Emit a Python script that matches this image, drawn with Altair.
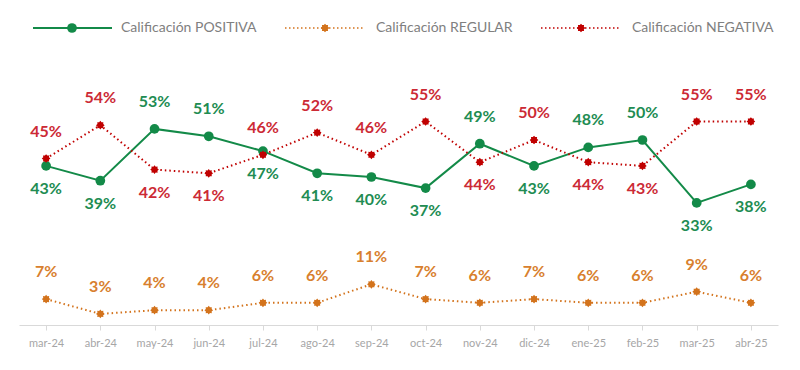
import math
import altair as alt
import pandas as pd

months = ["mar-24", "abr-24", "may-24", "jun-24", "jul-24", "ago-24", "sep-24",
          "oct-24", "nov-24", "dic-24", "ene-25", "feb-25", "mar-25", "abr-25"]
positiva = [43, 39, 53, 51, 47, 41, 40, 37, 49, 43, 48, 50, 33, 38]
regular = [7, 3, 4, 4, 6, 6, 11, 7, 6, 7, 6, 6, 9, 6]
negativa = [45, 54, 42, 41, 46, 52, 46, 55, 44, 50, 44, 43, 55, 55]
# label placement: "a" above the point, "b" below
pos_side = ["b", "b", "a", "a", "b", "b", "b", "b", "a", "b", "a", "a", "b", "b"]
neg_side = ["a", "a", "b", "b", "a", "a", "a", "a", "b", "a", "b", "b", "a", "a"]
reg_side = ["a"] * 14

series_names = ["Calificación POSITIVA", "Calificación REGULAR", "Calificación NEGATIVA"]
line_colors = ["#138a48", "#d3731c", "#c00000"]
label_colors = ["#218c52", "#d8802e", "#cc2a35"]

rows = []
for name, vals, sides in zip(series_names, [positiva, regular, negativa],
                             [pos_side, reg_side, neg_side]):
    for i, (m, v, s) in enumerate(zip(months, vals, sides)):
        rows.append({"mes": m, "serie": name, "valor": v, "lado": s,
                     "etiqueta": f"{v}%", "orden": i})
df = pd.DataFrame(rows)

# star-like marker path (style)
pts = []
for k in range(16):
    r = 1.0 if k % 2 == 0 else 0.72
    a = math.pi * k / 8
    pts.append(f"{r * math.cos(a):.3f},{r * math.sin(a):.3f}")
star = "M" + "L".join(pts) + "Z"

FONT = "Lato"
DOT = [1.5, 3]
x_enc = alt.X("mes:N", sort=months, scale=alt.Scale(paddingInner=0, paddingOuter=0),
              axis=alt.Axis(title=None, labelAngle=0, labelColor="#a6a6a6", labelFont=FONT,
                            labelFontSize=11, labelPadding=7, domainColor="#d9d9d9",
                            tickColor="#d9d9d9", tickSize=5, bandPosition=0, grid=False))
y_enc = alt.Y("valor:Q", scale=alt.Scale(domain=[0, 60]), axis=None)

layers = []
for name, lc, tc in zip(series_names, line_colors, label_colors):
    sub = alt.Chart(df).transform_filter(alt.datum.serie == name)
    if "POSITIVA" in name:
        line = sub.mark_line(color=lc, strokeWidth=2)
        pt = sub.mark_point(shape="circle", filled=True, color=lc, size=95, opacity=1)
    else:
        line = sub.mark_line(color=lc, strokeWidth=2, strokeDash=DOT)
        pt = sub.mark_point(shape=star, filled=True, color=lc, size=75, opacity=1)
    layers.append(line.encode(x=x_enc, y=y_enc, order="orden:Q"))
    layers.append(pt.encode(x=x_enc, y=y_enc))
    layers.append(sub.transform_filter(alt.datum.lado == "a").mark_text(
        font=FONT, fontSize=16, fontWeight="bold", color=tc, dy=-27, baseline="middle"
    ).encode(x=x_enc, y=y_enc, text="etiqueta:N"))
    layers.append(sub.transform_filter(alt.datum.lado == "b").mark_text(
        font=FONT, fontSize=16, fontWeight="bold", color=tc, dy=23, baseline="middle"
    ).encode(x=x_enc, y=y_enc, text="etiqueta:N"))

# manual legend (decorative positions)
leg_y = -75
leg_specs = [(14, 93, 53, 102), (266, 346, 306, 357), (522, 601, 562, 613)]
leg_df = pd.DataFrame({"serie": series_names})
for (x1, x2, xm, xt), name, lc in zip(leg_specs, series_names, line_colors):
    base = alt.Chart(leg_df).transform_filter(alt.datum.serie == name)
    if "POSITIVA" in name:
        layers.append(base.mark_rule(color=lc, strokeWidth=2).encode(
            x=alt.value(x1), x2=alt.value(x2), y=alt.value(leg_y)))
        layers.append(base.mark_point(shape="circle", filled=True, color=lc, size=95, opacity=1)
                      .encode(x=alt.value(xm), y=alt.value(leg_y)))
    else:
        layers.append(base.mark_rule(color=lc, strokeWidth=1.5, strokeDash=[1.5, 2.5]).encode(
            x=alt.value(x1), x2=alt.value(x2), y=alt.value(leg_y)))
        layers.append(base.mark_point(shape=star, filled=True, color=lc, size=75, opacity=1)
                      .encode(x=alt.value(xm), y=alt.value(leg_y)))
    layers.append(base.mark_text(font=FONT, fontSize=14, color="#808080", align="left",
                                 baseline="middle")
                  .encode(x=alt.value(xt), y=alt.value(leg_y), text="serie:N"))

chart = alt.layer(*layers).properties(
    width=759, height=222,
    background="white",
    autosize=alt.AutoSizeParams(type="none"),
    padding={"left": 11, "top": 95, "right": 14, "bottom": 30},
).configure_view(strokeWidth=0, stroke="transparent")

chart.save("out.html", embed_options={"renderer": "svg", "actions": False})
